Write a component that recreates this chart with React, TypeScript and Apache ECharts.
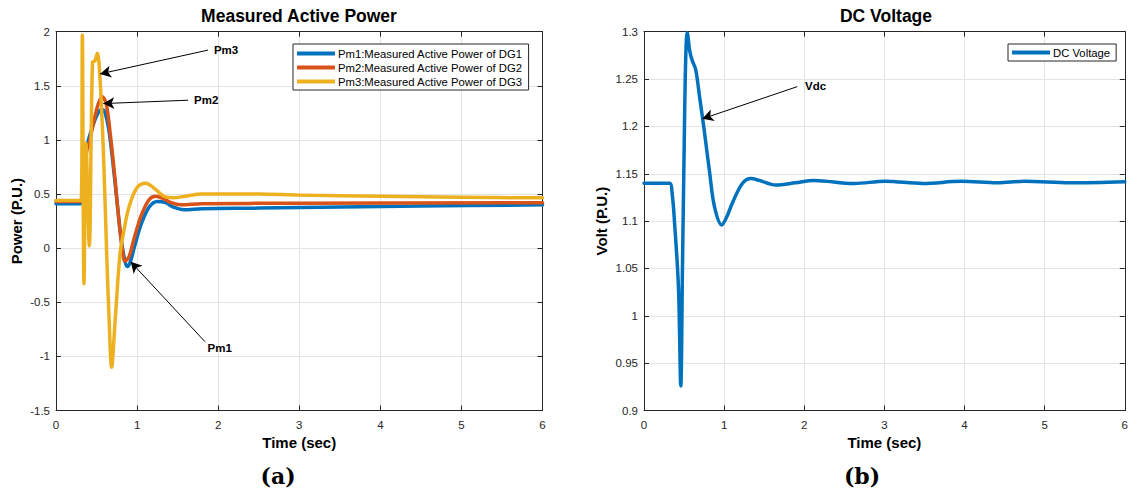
import React, { useEffect, useRef } from "react";
import * as echarts from "echarts";

const FONT = "'Liberation Sans', Arial, Helvetica, sans-serif";
const AX = "#262626";

// Left plot: measured active power (t in sec, P in P.U.)
const PM1: number[][] = [
  [0, 0.41], [0.31, 0.41], [0.33, 0.6], [0.36, 0.85], [0.4, 1.0], [0.45, 1.12], [0.5, 1.22],
  [0.56, 1.28], [0.6, 1.26], [0.65, 1.1], [0.7, 0.8], [0.75, 0.45], [0.8, 0.1], [0.85, -0.12],
  [0.88, -0.17], [0.92, -0.12], [0.97, 0.02], [1.05, 0.22], [1.15, 0.38], [1.25, 0.43],
  [1.35, 0.42], [1.45, 0.38], [1.58, 0.355], [1.8, 0.365], [2.5, 0.37], [3.5, 0.38],
  [4.5, 0.39], [6, 0.4],
];
const PM2: number[][] = [
  [0, 0.43], [0.31, 0.43], [0.34, 0.7], [0.38, 0.9], [0.41, 0.97], [0.46, 1.15], [0.52, 1.33],
  [0.57, 1.4], [0.62, 1.33], [0.67, 1.05], [0.72, 0.7], [0.77, 0.3], [0.82, -0.02],
  [0.85, -0.12], [0.9, -0.08], [0.96, 0.08], [1.05, 0.3], [1.15, 0.45], [1.23, 0.48],
  [1.32, 0.46], [1.42, 0.42], [1.54, 0.4], [1.8, 0.41], [3, 0.415], [6, 0.42],
];
const PM3: number[][] = [
  [0, 0.44], [0.31, 0.44], [0.325, 1.97], [0.345, -0.33], [0.37, 0.97], [0.41, 0.02],
  [0.45, 1.72], [0.48, 1.73], [0.51, 1.8], [0.54, 1.6], [0.585, 0.88], [0.625, -0.05],
  [0.655, -0.66], [0.686, -1.1], [0.73, -0.66], [0.79, -0.05], [0.84, 0.17], [0.9, 0.38],
  [1.0, 0.56], [1.11, 0.6], [1.2, 0.56], [1.33, 0.48], [1.44, 0.465], [1.6, 0.48],
  [1.8, 0.5], [2.5, 0.5], [3, 0.49], [4, 0.48], [5, 0.47], [6, 0.465],
];

// Right plot: DC voltage
const VDC: number[][] = [
  [0, 1.14], [0.32, 1.14], [0.35, 1.13], [0.38, 1.1], [0.43, 1.03], [0.459, 0.926],
  [0.48, 1.05], [0.5, 1.17], [0.52, 1.27], [0.54, 1.299], [0.57, 1.28], [0.6, 1.27],
  [0.645, 1.26], [0.694, 1.231], [0.756, 1.193], [0.818, 1.152], [0.88, 1.115],
  [0.97, 1.096], [1.03, 1.104], [1.107, 1.12], [1.23, 1.14], [1.335, 1.145], [1.438, 1.143],
  [1.645, 1.138], [1.89, 1.1404], [2.12, 1.143], [2.62, 1.1397], [3.01, 1.1421],
  [3.48, 1.1397], [3.96, 1.142], [4.41, 1.1404], [4.74, 1.142], [5.32, 1.1404], [6, 1.1415],
];

const SERIES_NAMES = [
  "Pm1:Measured Active Power of DG1",
  "Pm2:Measured Active Power of DG2",
  "Pm3:Measured Active Power of DG3",
];
const COLORS = ["#0072BD", "#D95319", "#EDB120"];

// Annotations: label, start (t,v), arrow tip (t,v)
const ANN_PM1 = { name: "Pm1", from: [1.838, -0.865], to: [0.921, -0.126], offset: [12, 3] };
const ANN_PM2 = { name: "Pm2", from: [1.628, 1.367], to: [0.583, 1.336], offset: [2, 0] };
const ANN_PM3 = { name: "Pm3", from: [1.875, 1.83], to: [0.543, 1.61], offset: [2, 1] };
const ANN_VDC = { name: "Vdc", from: [1.913, 1.242], to: [0.728, 1.208], offset: [4, 1] };

function arrow(a: { name: string; from: number[]; to: number[]; offset: number[] }) {
  return {
    silent: true,
    symbol: ["none", "arrow"],
    symbolSize: [9, 11],
    lineStyle: { color: "#000", width: 1, type: "solid" },
    label: {
      show: true,
      position: "start",
      formatter: "{b}",
      color: "#000",
      fontWeight: "bold",
      fontSize: 11.5,
      fontFamily: FONT,
      distance: 4,
      offset: a.offset,
    },
    emphasis: { disabled: true },
    data: [[{ name: a.name, coord: a.from }, { coord: a.to }]],
  };
}

function xAxes(gi: number) {
  const base = {
    type: "value",
    gridIndex: gi,
    min: 0,
    max: 6,
    interval: 1,
    axisLine: { show: true, onZero: false, lineStyle: { color: AX, width: 1 } },
    axisTick: { show: true, inside: true, length: 5, lineStyle: { color: AX } },
  };
  return [
    {
      ...base,
      position: "bottom",
      name: "Time (sec)",
      nameLocation: "middle",
      nameGap: 23,
      nameTextStyle: { fontFamily: FONT, fontWeight: "bold", fontSize: 15, color: "#000" },
      axisLabel: { color: AX, fontSize: 11.5, fontFamily: FONT, margin: 8 },
      splitLine: { show: true, lineStyle: { color: "#e3e3e3", width: 1 } },
    },
    { ...base, position: "top", axisLabel: { show: false }, splitLine: { show: false } },
  ];
}

function yAxes(gi: number, min: number, max: number, interval: number, name: string, gap: number, fmt: (v: number) => string) {
  const base = {
    type: "value",
    gridIndex: gi,
    min,
    max,
    interval,
    axisLine: { show: true, onZero: false, lineStyle: { color: AX, width: 1 } },
    axisTick: { show: true, inside: true, length: 5, lineStyle: { color: AX } },
  };
  return [
    {
      ...base,
      position: "left",
      name,
      nameLocation: "middle",
      nameGap: gap,
      nameTextStyle: { fontFamily: FONT, fontWeight: "bold", fontSize: 15, color: "#000" },
      axisLabel: { color: AX, fontSize: 11.5, fontFamily: FONT, margin: 6, formatter: fmt },
      splitLine: { show: true, lineStyle: { color: "#e3e3e3", width: 1 } },
    },
    { ...base, position: "right", axisLabel: { show: false }, splitLine: { show: false } },
  ];
}

export default function App() {
  const ref = useRef<HTMLDivElement>(null);
  useEffect(() => {
    if (!ref.current) return;
    const chart = echarts.init(ref.current, undefined, { renderer: "svg" });
    const lineSeries = (name: string, data: number[][], color: string, xi: number, yi: number, ann: any) => ({
      type: "line",
      name,
      data,
      xAxisIndex: xi,
      yAxisIndex: yi,
      showSymbol: false,
      symbol: "none",
      smooth: 0.35,
      lineStyle: { color, width: 3.5, join: "round", cap: "round" },
      itemStyle: { color },
      emphasis: { disabled: true },
      markLine: ann ? arrow(ann) : undefined,
    });
    const titleStyle = { fontFamily: FONT, fontWeight: "bold", fontSize: 17.5, color: "#000" };
    const serifFont = "bold 22px 'DejaVu Serif', 'Liberation Serif', serif";
    chart.setOption({
      animation: false,
      backgroundColor: "#fff",
      title: [
        { text: "Measured Active Power", left: 299, top: 7, textAlign: "center", padding: 0, textStyle: titleStyle },
        { text: "DC Voltage", left: 886, top: 7, textAlign: "center", padding: 0, textStyle: titleStyle },
      ],
      legend: [
        {
          data: SERIES_NAMES,
          orient: "vertical",
          left: 293,
          top: 44,
          itemWidth: 38,
          itemHeight: 4,
          itemGap: 3,
          icon: "rect",
          padding: [4, 6, 3, 4],
          borderColor: AX,
          borderWidth: 1,
          backgroundColor: "#fff",
          textStyle: { fontFamily: FONT, fontSize: 11.3, color: "#000", padding: [0, 0, 0, -2] },
          selectedMode: false,
        },
        {
          data: ["DC Voltage"],
          orient: "vertical",
          left: 1008,
          top: 44,
          itemWidth: 38,
          itemHeight: 4,
          icon: "rect",
          padding: [3, 6, 3, 4],
          borderColor: AX,
          borderWidth: 1,
          backgroundColor: "#fff",
          textStyle: { fontFamily: FONT, fontSize: 11.3, color: "#000", padding: [0, 0, 0, -2] },
          selectedMode: false,
        },
      ],
      grid: [
        { left: 56, right: 588.5, top: 31.7, bottom: 80.5 },
        { left: 644, right: 3, top: 31.7, bottom: 80.5 },
      ],
      xAxis: [...xAxes(0), ...xAxes(1)],
      yAxis: [
        ...yAxes(0, -1.5, 2, 0.5, "Power (P.U.)", 32, (v: number) => String(+v.toFixed(2))),
        ...yAxes(1, 0.9, 1.3, 0.05, "Volt (P.U.)", 35, (v: number) => String(+v.toFixed(2))),
      ],
      series: [
        lineSeries(SERIES_NAMES[0], PM1, COLORS[0], 0, 0, ANN_PM1),
        lineSeries(SERIES_NAMES[1], PM2, COLORS[1], 0, 0, ANN_PM2),
        lineSeries(SERIES_NAMES[2], PM3, COLORS[2], 0, 0, ANN_PM3),
        lineSeries("DC Voltage", VDC, COLORS[0], 2, 2, ANN_VDC),
      ],
      graphic: [
        {
          type: "text",
          x: 278,
          y: 476,
          style: { text: "(a)", font: serifFont, fill: "#000", align: "center", verticalAlign: "middle" },
        },
        {
          type: "text",
          x: 862,
          y: 476,
          style: { text: "(b)", font: serifFont, fill: "#000", align: "center", verticalAlign: "middle" },
        },
      ],
    });
    return () => chart.dispose();
  }, []);
  return <div ref={ref} style={{ position: "fixed", left: 0, top: 0, width: 1131, height: 491 }} />;
}
